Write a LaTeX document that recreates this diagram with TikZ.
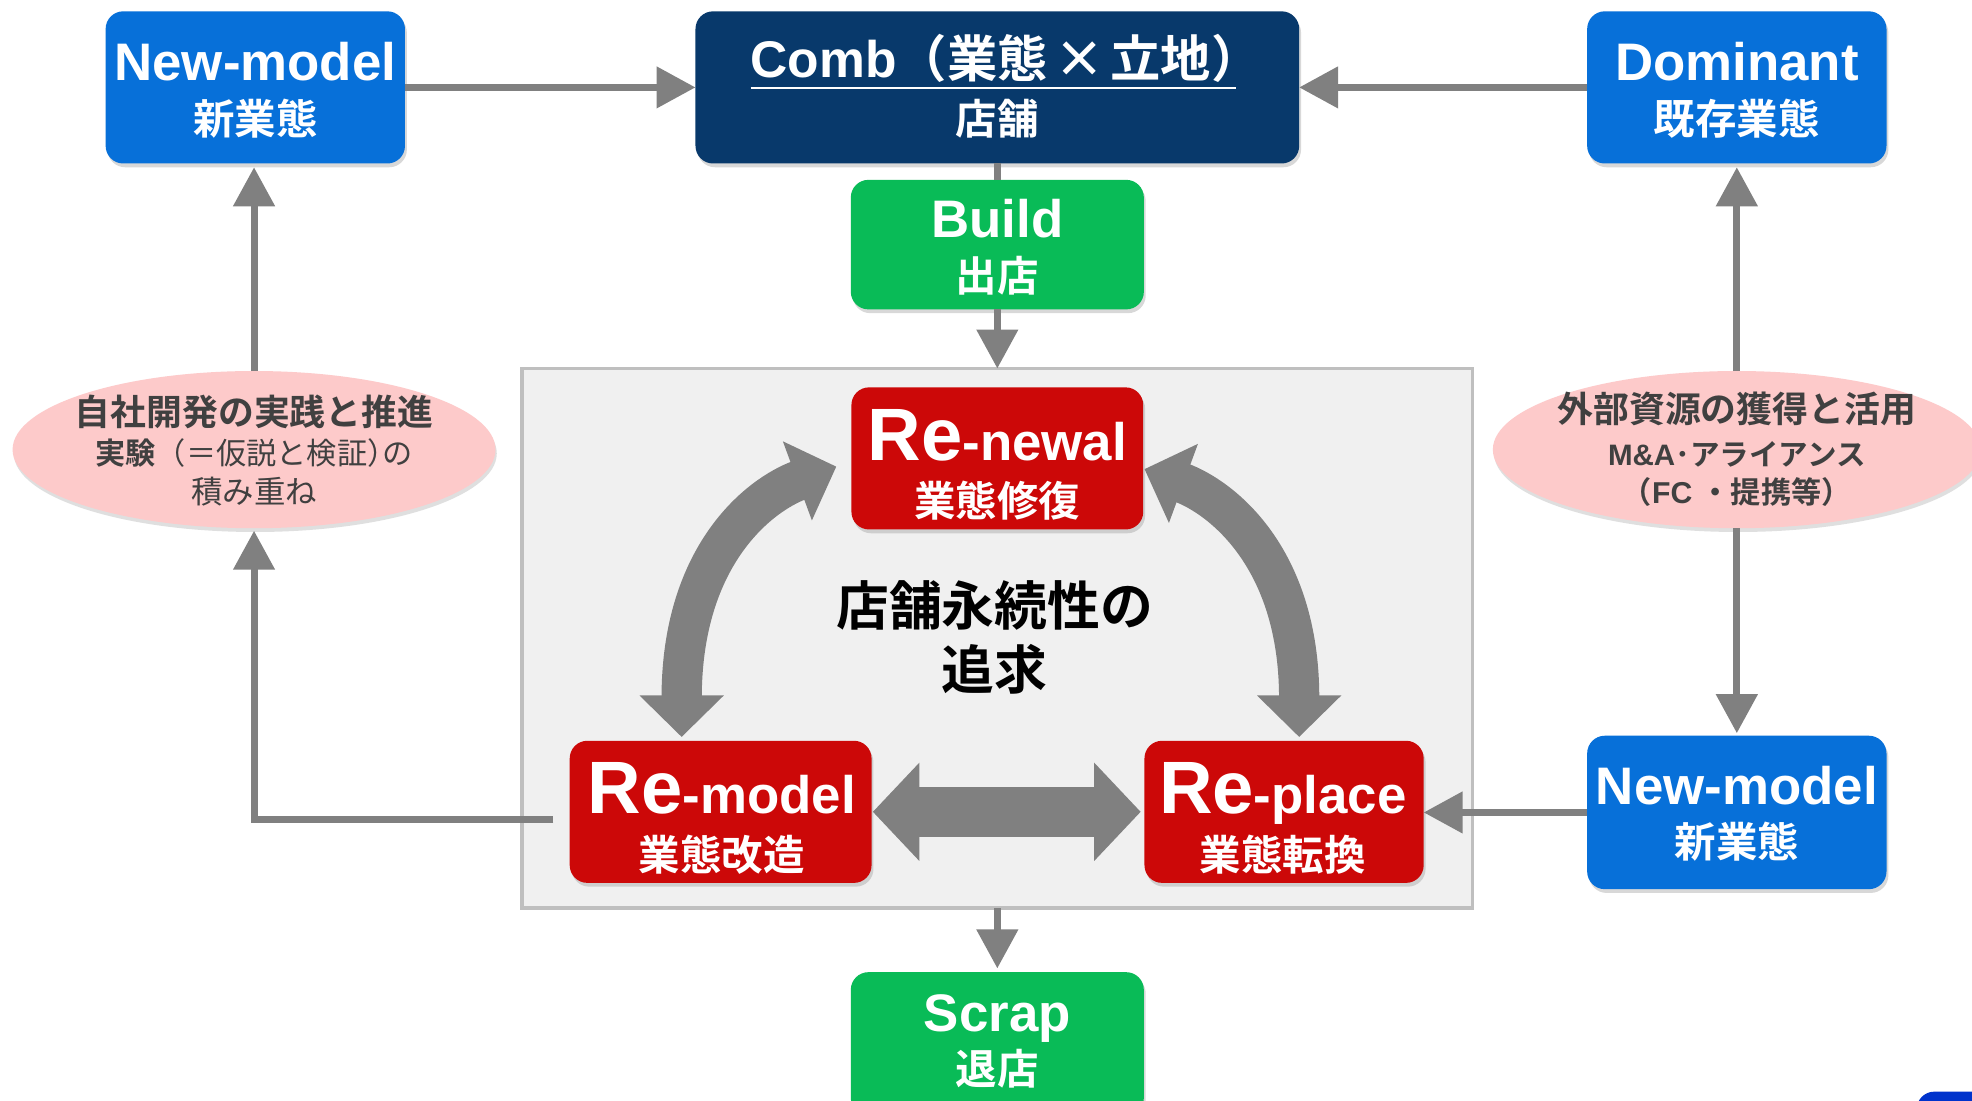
\documentclass[tikz,border=0pt]{standalone}
\usepackage{fontspec}
\setmainfont{Liberation Sans}
\newfontfamily\cjk{Noto Sans CJK JP}[BoldFont={Noto Sans CJK JP Bold}]
\newfontfamily\cjkh{Noto Sans CJK JP}[BoldFont={Noto Sans CJK JP Bold},RawFeature=+halt]
\usetikzlibrary{arrows.meta,shapes.geometric,shadows,calc}
\definecolor{cblue}{HTML}{0770D9}
\definecolor{cnavy}{HTML}{08396B}
\definecolor{cgreen}{HTML}{09BB57}
\definecolor{cred}{HTML}{CC0808}
\definecolor{cgrey}{HTML}{808080}
\definecolor{cpink}{HTML}{FDCACA}
\definecolor{cpanel}{HTML}{F0F0F0}
\definecolor{cpanelb}{HTML}{BFBFBF}
\definecolor{ctext}{HTML}{404040}
\definecolor{cdeep}{HTML}{0033CC}
\newcommand\fsz[1]{\fontsize{#1}{#1}\selectfont}
\newcommand\JP[1]{{\cjk #1}}
\newcommand\JH[1]{{\cjkh #1}}
\newcommand\myul[1]{\vtop{\hbox{#1}\kern3.4pt\hrule height 1.6pt}}

\begin{document}
\begin{tikzpicture}[x=1pt,y=-1pt,
  box/.style={rectangle, rounded corners=14pt, inner sep=0pt, outer sep=0pt,
     drop shadow={shadow xshift=1.5pt, shadow yshift=-3pt, opacity=0.3}},
  lbl/.style={anchor=base, inner sep=0pt, outer sep=0pt, text=white, font=\bfseries},
  etx/.style={anchor=base, inner sep=0pt, outer sep=0pt, text=ctext},
  ell/.style={ellipse, fill=cpink, inner sep=0pt, outer sep=0pt,
     drop shadow={shadow xshift=1pt, shadow yshift=-3pt, opacity=0.25}},
  conn/.style={draw=cgrey, line width=5.6pt, -{Triangle[length=31pt,width=32pt]}},
  plain/.style={draw=cgrey, line width=5.6pt},
  bigarr/.style={draw=cgrey, line width=32pt, {Triangle[length=33pt,width=65pt]}-{Triangle[length=33pt,width=65pt]}},
  bigh/.style={draw=cgrey, line width=40pt, {Triangle[length=37pt,width=76pt]}-{Triangle[length=37pt,width=76pt]}},
]
\useasboundingbox (0,0) rectangle (1568,875);
\clip (0,0) rectangle (1568,875);
\fill[white] (0,0) rectangle (1568,875);

% panel
\node[rectangle, draw=cpanelb, fill=cpanel, line width=2.5pt, inner sep=0pt, outer sep=0pt,
      minimum width=756pt, minimum height=429pt] (core) at (793,507.5) {};

% boxes
\node[box, fill=cblue, minimum width=238pt, minimum height=121pt] (nmL) at (203,69.5) {};
\node[box, fill=cnavy, minimum width=480pt, minimum height=121pt] (comb) at (793,69.5) {};
\node[box, fill=cblue, minimum width=238pt, minimum height=121pt] (dom) at (1381,69.5) {};
\node[box, fill=cgreen, minimum width=233pt, minimum height=103pt] (build) at (793,194.5) {};
\node[box, fill=cred, minimum width=232pt, minimum height=113pt] (renewal) at (793,364.5) {};
\node[box, fill=cred, minimum width=240pt, minimum height=113pt] (remodel) at (573,645.5) {};
\node[box, fill=cred, minimum width=222pt, minimum height=113pt] (replace) at (1021,645.5) {};
\node[box, fill=cblue, minimum width=238pt, minimum height=122pt] (nmR) at (1381,646) {};
\node[box, fill=cgreen, minimum width=233pt, minimum height=114pt] (scrap) at (793,830) {};
\node[box, fill=cdeep, minimum width=96pt, minimum height=62pt] (corner) at (1572,899) {};

% ellipses
\node[ell, minimum width=384pt, minimum height=125pt] (ellL) at (202,357.5) {};
\node[ell, minimum width=388pt, minimum height=125pt] (ellR) at (1381,357.5) {};

% labels
\node[lbl] (nmLa) at (203,64) {\fsz{42}New-model};
\node[lbl] (nmLb) at (203,107) {\JP{\fsz{33}新業態}};
\node[lbl] (comba) at (790,62) {\myul{\fsz{41}Comb\JP{\fsz{40}（業態\hbox to 50pt{\hss×\hss}立地}\JH{\fsz{40}）}}};
\node[lbl] (combb) at (793,107) {\JP{\fsz{33}店舗}};
\node[lbl] (doma) at (1381,64) {\fsz{42}Dominant};
\node[lbl] (domb) at (1381,107) {\JP{\fsz{33}既存業態}};
\node[lbl] (builda) at (793,189) {\fsz{42}Build};
\node[lbl] (buildb) at (793,232) {\JP{\fsz{33}出店}};
\node[lbl] (renewala) at (793,366) {{\fsz{59}Re}{\fsz{42}-newal}};
\node[lbl] (renewalb) at (793,411) {\JP{\fsz{33}業態修復}};
\node[lbl] (remodela) at (574,647) {{\fsz{59}Re}{\fsz{42}-model}};
\node[lbl] (remodelb) at (574,692) {\JP{\fsz{33}業態改造}};
\node[lbl] (replacea) at (1020,647) {{\fsz{59}Re}{\fsz{42}-place}};
\node[lbl] (replaceb) at (1020,692) {\JP{\fsz{33}業態転換}};
\node[lbl] (nmRa) at (1381,640) {\fsz{42}New-model};
\node[lbl] (nmRb) at (1381,682) {\JP{\fsz{33}新業態}};
\node[lbl] (scrapa) at (793,820) {\fsz{42}Scrap};
\node[lbl] (scrapb) at (793,862) {\JP{\fsz{33}退店}};

\node[lbl, text=black] (goal1) at (791,497) {\JP{\fsz{42}店舗永続性の}};
\node[lbl, text=black] (goal2) at (791,548) {\JP{\fsz{42}追求}};

\node[etx] (ellLa) at (202,338) {\JP{\bfseries\fsz{28.5}自社開発の実践と推進}};
\node[etx] (ellLb) at (202,369) {\fsz{24}\JP{\bfseries 実験}\JP{（＝仮説と検証}\JH{）}\JP{の}};
\node[etx] (ellLc) at (202,400) {\JP{\fsz{25}積み重ね}};
\node[etx] (ellRa) at (1381,336) {\JP{\bfseries\fsz{28.5}外部資源の獲得と活用}};
\node[etx] (ellRb) at (1381,370) {\bfseries\fsz{23.5}M\&A\JP{･アライアンス}};
\node[etx] (ellRc) at (1381,400) {\bfseries\fsz{24}\JP{（}FC \JP{・提携等）}};

% connectors
\draw[conn] (nmL.east) -- (comb.west);
\draw[conn] (dom.west) -- (comb.east);
\draw[plain] (comb.south) -- (comb.south |- build.north);
\draw[conn] (build.south) -- (build.south |- core.north);
\draw[conn] (core.south) -- ($(core.south |- scrap.north)+(0,-3)$);
\draw[conn] (ellL.north) -- ($(ellL.north |- nmL.south)+(0,3)$);
\draw[conn] (ellR.north) -- ($(ellR.north |- dom.south)+(0,3)$);
\draw[conn] (ellR.south) -- ($(ellR.south |- nmR.north)+(0,-2)$);
\draw[conn] (nmR.west) -- (nmR.west -| replace.east);
\coordinate (rmout) at ($(remodel.west)+(-13,6)$);
\draw[conn] (rmout) -| ($(ellL.south)+(0,2)$);

% big arrows
\draw[bigarr] ($(renewal.west)+(-12,6.5)$) .. controls ($(renewal.west)+(-72,28.5)$) and ($(remodel.north)+(-31,-149)$) .. ($(remodel.north)+(-31,-3)$);
\draw[bigarr] ($(renewal.east)+(1,8.5)$) .. controls ($(renewal.east)+(61,30.5)$) and ($(replace.north)+(12,-147)$) .. ($(replace.north)+(12,-3)$);
\draw[bigh] ($(remodel.east)+(1,0)$) -- ($(replace.west)+(-3,0)$);
\end{tikzpicture}
\end{document}
